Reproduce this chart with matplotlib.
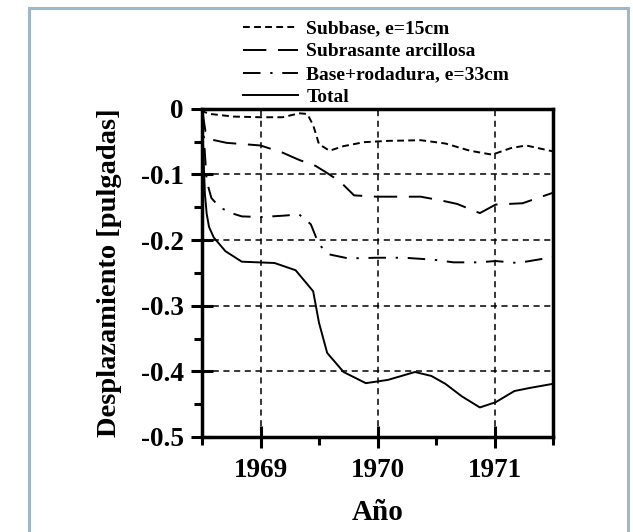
import matplotlib
matplotlib.use("Agg")
import matplotlib.pyplot as plt
from matplotlib.patches import Rectangle
from matplotlib.ticker import MultipleLocator

plt.rcParams['font.family'] = ['Liberation Serif', 'DejaVu Serif']
plt.rcParams['font.weight'] = 'bold'

# Data (year, displacement in inches)
subbase_x = [1968.5, 1968.52, 1968.57, 1968.77, 1969.0, 1969.19, 1969.33, 1969.40, 1969.45,
             1969.50, 1969.59, 1969.71, 1969.885, 1970.09, 1970.37, 1970.58, 1970.79,
             1970.98, 1971.14, 1971.27, 1971.5]
subbase_y = [0.0, -0.005, -0.008, -0.012, -0.013, -0.013, -0.007, -0.008, -0.025,
             -0.054, -0.064, -0.057, -0.051, -0.049, -0.048, -0.053, -0.064,
             -0.070, -0.060, -0.056, -0.065]

subr_x = [1968.5, 1968.53, 1968.58, 1968.71, 1969.0, 1969.19, 1969.33, 1969.47, 1969.57,
          1969.68, 1969.80, 1969.99, 1970.37, 1970.55, 1970.68, 1970.875, 1971.01,
          1971.24, 1971.5]
subr_y = [0.0, -0.035, -0.047, -0.052, -0.056, -0.067, -0.078, -0.087, -0.098,
          -0.111, -0.132, -0.134, -0.134, -0.140, -0.145, -0.159, -0.146,
          -0.144, -0.128]

base_x = [1968.5, 1968.54, 1968.58, 1968.65, 1968.75, 1968.84, 1969.0, 1969.19, 1969.33,
          1969.43, 1969.50, 1969.59, 1969.75, 1969.99, 1970.23, 1970.48, 1970.65,
          1970.86, 1971.01, 1971.20, 1971.5]
base_y = [0.0, -0.110, -0.136, -0.150, -0.159, -0.164, -0.165, -0.163, -0.161,
          -0.176, -0.207, -0.222, -0.228, -0.227, -0.227, -0.230, -0.234,
          -0.234, -0.232, -0.235, -0.226]

total_x = [1968.5, 1968.51, 1968.525, 1968.54, 1968.56, 1968.60, 1968.70, 1968.84, 1968.98,
           1969.12, 1969.30, 1969.45, 1969.50, 1969.57, 1969.71, 1969.90, 1970.09,
           1970.32, 1970.46, 1970.58, 1970.72, 1970.875, 1971.01, 1971.17, 1971.31, 1971.5]
total_y = [0.0, -0.06, -0.130, -0.160, -0.180, -0.196, -0.217, -0.233, -0.234,
           -0.235, -0.246, -0.278, -0.326, -0.372, -0.401, -0.418, -0.413,
           -0.401, -0.407, -0.419, -0.438, -0.455, -0.447, -0.430, -0.425, -0.419]

labels = ["Subbase, e=15cm", "Subrasante arcillosa", "Base+rodadura, e=33cm", "Total"]
xticks = [1969, 1970, 1971]
yticks = [0, -0.1, -0.2, -0.3, -0.4, -0.5]
ytick_labels = ["0", "-0.1", "-0.2", "-0.3", "-0.4", "-0.5"]

fig = plt.figure(figsize=(6.33, 5.32), dpi=100)
fig.patches.append(Rectangle((28.5/633, -0.05), (627.5-28.5)/633, 1.05 - 7.5/532,
                             transform=fig.transFigure, fill=False,
                             edgecolor='#9db8cc', linewidth=2.2))
ax = fig.add_axes([202/633, 1-437/532, (553-202)/633, (437-108.7)/532])

lw = 1.4
ax.plot(subbase_x, subbase_y, color='black', lw=lw, dashes=(3.5, 2.2), label=labels[0])
ax.plot(subr_x, subr_y, color='black', lw=lw, dashes=(12, 6), label=labels[1])
ax.plot(base_x, base_y, color='black', lw=lw, dashes=(9, 5, 1.2, 5), label=labels[2])
ax.plot(total_x, total_y, color='black', lw=lw, label=labels[3])

ax.set_xlim(1968.5, 1971.5)
ax.set_ylim(-0.5, 0)
ax.set_xticks(xticks)
ax.set_xticklabels([str(v) for v in xticks])
ax.set_yticks(yticks)
ax.set_yticklabels(ytick_labels)
ax.xaxis.set_minor_locator(MultipleLocator(0.5))
ax.yaxis.set_minor_locator(MultipleLocator(0.05))

for s in ax.spines.values():
    s.set_linewidth(2.5)
ax.tick_params(which='major', direction='inout', length=16, width=2.2, labelsize=19.5, pad=5)
ax.tick_params(which='minor', direction='out', length=6, width=2.2)
ax.tick_params(axis='x', which='major', pad=7)

ax.grid(True, which='major', color='black', linestyle=(0, (4, 3)), linewidth=1.1)

ax.set_xlabel("Año", fontsize=21, fontweight='bold', labelpad=12)
ax.set_ylabel("Desplazamiento [pulgadas]", fontsize=20.5, fontweight='bold', labelpad=14)

leg = fig.legend(loc='upper left', bbox_to_anchor=(243/633, 1 - 20/532), frameon=False,
                 fontsize=14, handlelength=2.85, handletextpad=0.4, labelspacing=0.27,
                 borderaxespad=0, borderpad=0)
for t in leg.get_texts():
    t.set_fontweight('bold')

fig.savefig("out.png", dpi=100)
